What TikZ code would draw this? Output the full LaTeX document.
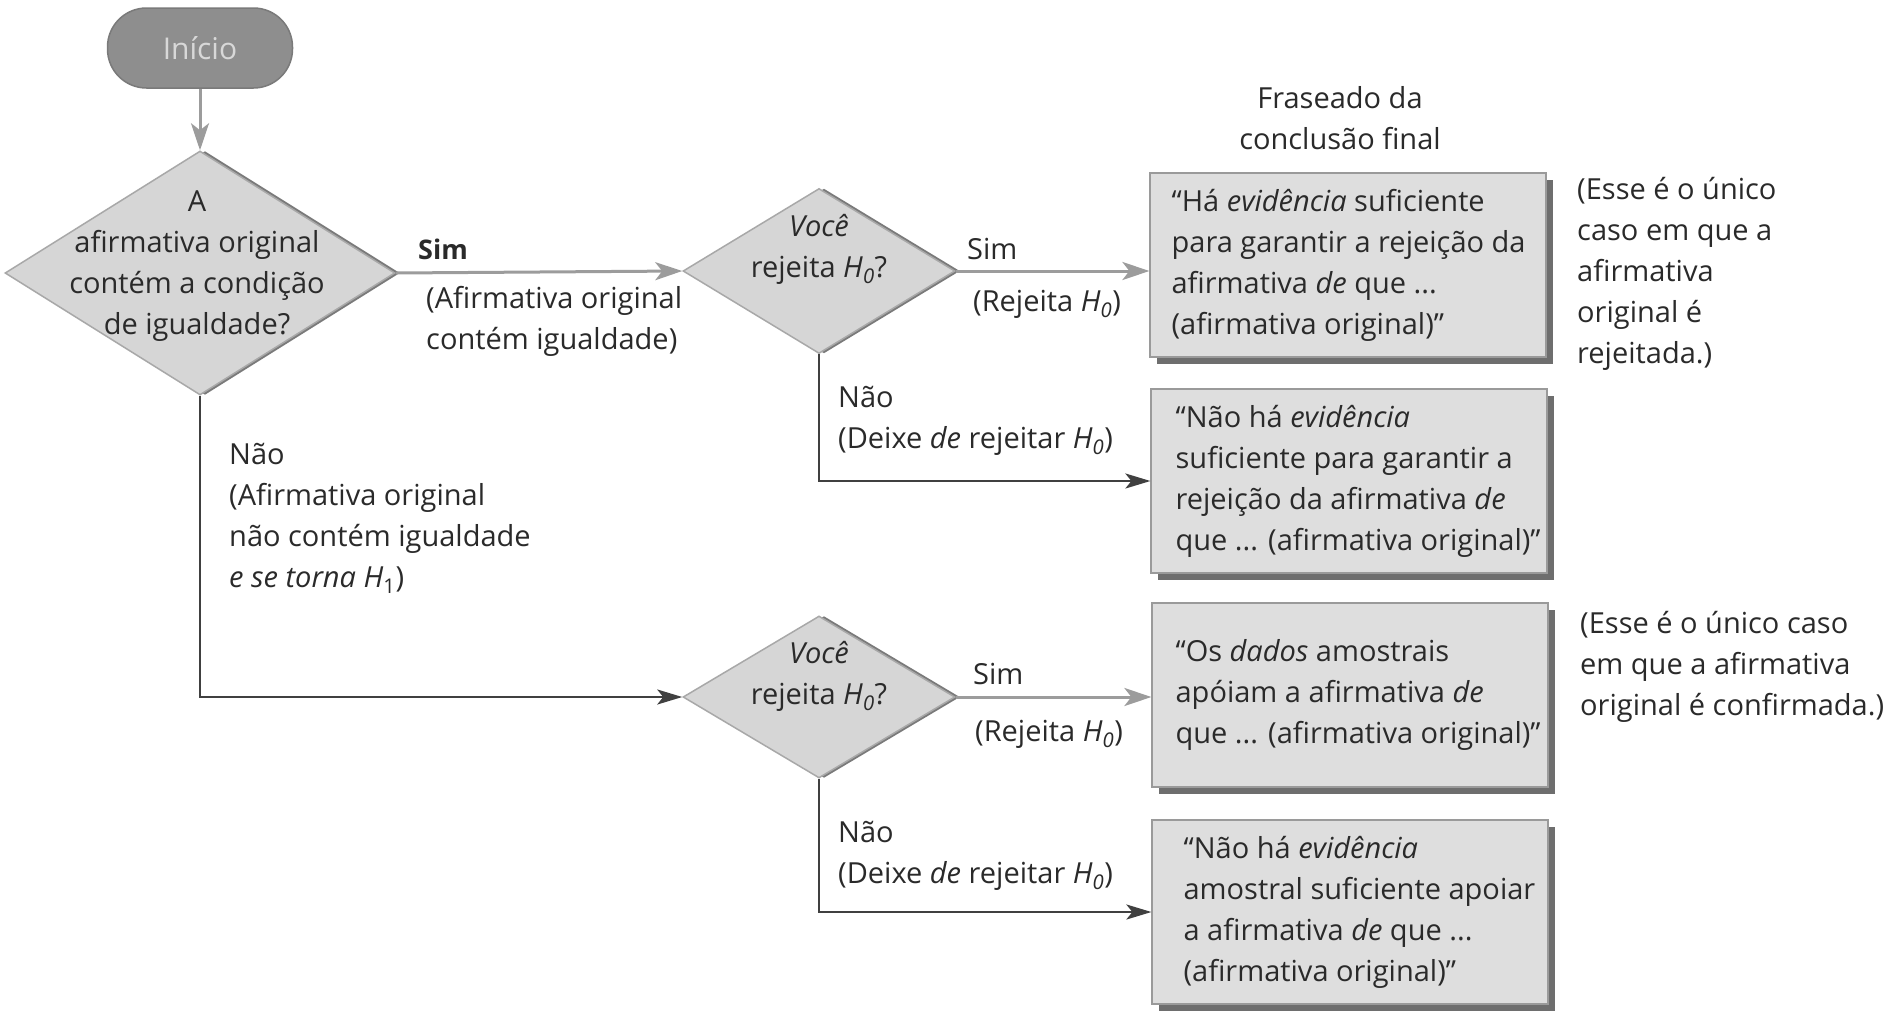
\documentclass[tikz,border=0pt]{standalone}
\usepackage{fontspec}
\setmainfont{Open Sans}
\usetikzlibrary{shapes.geometric,shadows,arrows.meta}
\definecolor{dfill}{HTML}{D6D6D6}
\definecolor{dedge}{HTML}{A8A8A8}
\definecolor{dshadow}{HTML}{7A7A7A}
\definecolor{bfill}{HTML}{DEDEDE}
\definecolor{bedge}{HTML}{9A9A9A}
\definecolor{bshadow}{HTML}{6E6E6E}
\definecolor{agray}{HTML}{9C9C9C}
\definecolor{adark}{HTML}{404040}
\definecolor{sfill}{HTML}{8E8E8E}
\definecolor{stext}{HTML}{D8D8D8}
\definecolor{ink}{HTML}{2A2A2A}
\newcommand{\Hz}{\textit{H}\textsubscript{\textit{0}}}
\newcommand{\Hu}{\textit{H}\textsubscript{1}}
\begin{document}
\begin{tikzpicture}[x=1pt,y=-1pt,
  font=\fontsize{29}{41}\selectfont,
  txt/.style={inner sep=0pt, anchor=west, align=left, text=ink},
  ctxt/.style={inner sep=0pt, align=center, text=ink},
  dia/.style={diamond, inner sep=0pt, fill=dfill, draw=dedge, line width=1.5pt,
    drop shadow={shadow xshift=5pt, shadow yshift=0pt, fill=dshadow, opacity=1}},
  box/.style={rectangle, inner sep=0pt, minimum width=396pt, minimum height=184pt,
    fill=bfill, draw=bedge, line width=1.2pt,
    drop shadow={shadow xshift=7pt, shadow yshift=-7pt, fill=bshadow, opacity=1}},
  startbox/.style={rectangle, rounded corners=39pt, minimum width=185pt, minimum height=80pt,
    fill=sfill, draw=dshadow, line width=1.5pt, text=stext, inner sep=0pt,
    font=\fontsize{30}{36}\selectfont},
  simarrow/.style={draw=agray, line width=3pt, -{Stealth[length=27pt,width=18pt,inset=7pt]}},
  naoarrow/.style={draw=adark, line width=2.5pt, -{Stealth[length=25pt,width=15pt,inset=6pt]}}
]
\useasboundingbox (0,0) rectangle (1883,1010);
\fill[white] (0,0) rectangle (1883,1010);

% start
\node[startbox] (s) at (200,48) {Início};

% diamonds
\node[dia, minimum width=390pt, minimum height=244pt] (d1) at (200,273) {};
\node[ctxt] (d1t) at (197,266) {A\\afirmativa original\\contém a condição\\de igualdade?};
\node[dia, minimum width=272pt, minimum height=165pt] (d2) at (819,271) {};
\node[ctxt] (d2t) at (819,249) {\textit{Você}\\rejeita \Hz?};
\node[dia, minimum width=272pt, minimum height=162pt] (d3) at (819,697) {};
\node[ctxt] (d3t) at (819,676) {\textit{Você}\\rejeita \Hz?};

% boxes
\node[box] (b1) at (1348,265) {};
\node[txt] (b1t) at ([xshift=22pt]b1.west) {“Há \textit{evidência} suficiente\\para garantir a rejeição da\\afirmativa \textit{de} que ...\\(afirmativa original)”};
\node[box] (b2) at (1349,481) {};
\node[txt] (b2t) at ([xshift=25pt]b2.west) {“Não há \textit{evidência}\\suficiente para garantir a\\rejeição da afirmativa \textit{de}\\que ... (afirmativa original)”};
\node[box] (b3) at (1350,695) {};
\node[txt] (b3t) at ([xshift=24pt]b3.west) {“Os \textit{dados} amostrais\\apóiam a afirmativa \textit{de}\\que ... (afirmativa original)”};
\node[box] (b4) at (1350,912) {};
\node[txt] (b4t) at ([xshift=32pt]b4.west) {“Não há \textit{evidência}\\amostral suficiente apoiar\\a afirmativa \textit{de} que ...\\(afirmativa original)”};

% header and notes
\node[ctxt] (hdr) at (1340,118) {Fraseado da\\conclusão final};
\node[txt] (n1) at (1577,274) {(Esse é o único\\caso em que a\\afirmativa\\original é\\rejeitada.)};
\node[txt] (n2) at (1580,667) {(Esse é o único caso\\em que a afirmativa\\original é confirmada.)};

% connectors
\draw[simarrow] (s.south) -- (d1.north);
\draw[simarrow] (d1.east) -- (d2.west);
\draw[simarrow] (d2.east) -- (d2.east -| b1.west);
\draw[naoarrow] (d2.south) |- (b2.west);
\draw[naoarrow] (d1.south) |- (d3.west);
\draw[simarrow] (d3.east) -- (d3.east -| b3.west);
\draw[naoarrow] (d3.south) |- (b4.west);

% edge labels
\node[txt, font=\fontsize{27}{41}\selectfont\bfseries] (l1) at (418,249) {Sim};
\node[txt] (l2) at (426,321) {(Afirmativa original\\contém igualdade)};
\node[txt] (l3) at (967,249) {Sim};
\node[txt] (l4) at (973,304) {(Rejeita \Hz)};
\node[txt] (l5) at (838,421) {Não\\(Deixe \textit{de} rejeitar \Hz)};
\node[txt] (l6) at (229,518) {Não\\(Afirmativa original\\não contém igualdade\\\textit{e se torna} \Hu)};
\node[txt] (l7) at (973,674) {Sim};
\node[txt] (l8) at (975,734) {(Rejeita \Hz)};
\node[txt] (l9) at (838,856) {Não\\(Deixe \textit{de} rejeitar \Hz)};
\end{tikzpicture}
\end{document}
